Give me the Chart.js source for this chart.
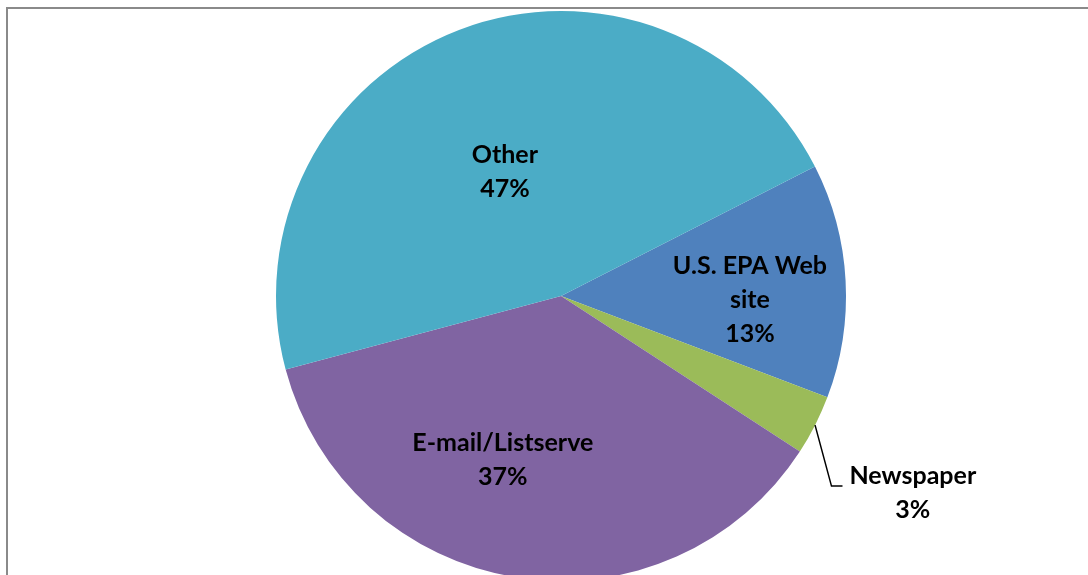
<!DOCTYPE html>
<html>
<head>
<meta charset="utf-8">
<script src="https://cdn.jsdelivr.net/npm/chart.js@4.4.1/dist/chart.umd.min.js"></script>
<style>
    html, body { margin: 0; padding: 0; background: #fff; overflow: hidden; }
    body { width: 1088px; height: 575px; position: relative; }
    #frame {
        position: absolute; left: 6px; top: 7px; width: 1100px; height: 600px;
        border-left: 2px solid #8a8a8a; border-top: 2px solid #8a8a8a;
    }
    #wrap { position: absolute; left: 0; top: 0; width: 1088px; height: 600px; }
</style>
</head>
<body>
<div id="frame"></div>
<div id="wrap"><canvas id="pieChart" width="1088" height="600"></canvas></div>
<script>
// Chart data (shares, shown rounded)
const categories = ['U.S. EPA Web site', 'Newspaper', 'E-mail/Listserve', 'Other'];
const shares = [13.3, 3.4, 36.7, 46.7];
const sliceColors = ['#4F81BD', '#9BBB59', '#8064A2', '#4BACC6'];

// Label lines for each slice (category text is wrapped like the original)
const labelLines = [['U.S. EPA Web', 'site'], ['Newspaper'], ['E-mail/Listserve'], ['Other']];
// label placement: fraction of radius and shift from the slice middle (degrees)
const labelRadius = [0.663, 1.16, 0.61, 0.477];
const labelShift = [4.25, 8.15, 10.5, -3.4];

const labelFont = 'bold 25px Lato, "Open Sans", sans-serif';
const lineHeight = 34;

const dataLabels = {
    id: 'dataLabels',
    afterDraw(chart) {
        const ctx = chart.ctx;
        const arcs = chart.getDatasetMeta(0).data;
        ctx.save();
        ctx.font = labelFont;
        ctx.fillStyle = '#000';
        ctx.textAlign = 'center';
        ctx.textBaseline = 'middle';
        arcs.forEach((arc, i) => {
            const p = arc.getProps(['x', 'y', 'startAngle', 'endAngle', 'outerRadius'], true);
            const mid = (p.startAngle + p.endAngle) / 2;
            const lines = labelLines[i].concat([Math.round(shares[i]) + '%']);
            const a = mid + labelShift[i] * Math.PI / 180;
            let cx = p.x + Math.cos(a) * p.outerRadius * labelRadius[i];
            let cy = p.y + Math.sin(a) * p.outerRadius * labelRadius[i];
            if (labelRadius[i] > 1) {
                // outside label with leader line from the slice edge
                const x0 = p.x + Math.cos(mid) * p.outerRadius;
                const y0 = p.y + Math.sin(mid) * p.outerRadius;
                ctx.strokeStyle = '#000';
                ctx.lineWidth = 1.5;
                ctx.beginPath();
                ctx.moveTo(x0, y0);
                ctx.lineTo(cx, cy);
                ctx.lineTo(cx + 11, cy);
                ctx.stroke();
                const w = ctx.measureText(lines[0]).width;
                cx = cx + 18 + w / 2;
                cy = cy + 7;
            }
            const top = cy - (lines.length - 1) * lineHeight / 2;
            lines.forEach((t, k) => ctx.fillText(t, cx, top + k * lineHeight));
        });
        ctx.restore();
    }
};

const ctx = document.getElementById('pieChart').getContext('2d');
new Chart(ctx, {
    type: 'pie',
    data: {
        labels: categories,
        datasets: [{
            data: shares,
            backgroundColor: sliceColors,
            borderWidth: 0
        }]
    },
    options: {
        responsive: false,
        animation: false,
        rotation: 63,
        layout: { padding: { left: 276, right: 242, top: 11, bottom: 19 } },
        plugins: {
            legend: { display: false },
            tooltip: { enabled: false }
        }
    },
    plugins: [dataLabels]
});
</script>
</body>
</html>
